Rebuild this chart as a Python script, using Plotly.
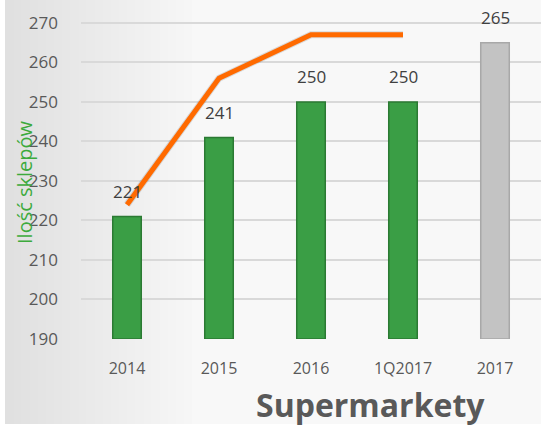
import plotly.graph_objects as go

categories = ["2014", "2015", "2016", "1Q2017", "2017"]
bar_values = [221, 241, 250, 250, 265]
bar_colors = ["#3a9e45", "#3a9e45", "#3a9e45", "#3a9e45", "#c3c3c3"]
bar_lines = ["#2b7a33", "#2b7a33", "#2b7a33", "#2b7a33", "#a8a8a8"]
line_categories = ["2014", "2015", "2016", "1Q2017"]
line_values = [224, 256, 267, 267]
y_ticks = [190, 200, 210, 220, 230, 240, 250, 260, 270]

W, H = 541, 427
ml, mr, mt, mb = 81, 0, 0, 88
pw = W - ml - mr
ph = H - mt - mb

def px_x(p):
    return (p - ml) / pw

def px_y(p):
    return (H - mb - p) / ph

fig = go.Figure()

shapes = []
steps = 24
x0, x1 = 5, 200
for i in range(steps):
    a = x0 + (x1 - x0) * i / steps
    b = x0 + (x1 - x0) * (i + 1) / steps
    t = i / (steps - 1)
    c = int(224 + (248 - 224) * t)
    shapes.append(dict(type="rect", xref="paper", yref="paper",
                       x0=px_x(a), x1=px_x(b) + 0.002, y0=px_y(424), y1=px_y(0),
                       fillcolor=f"rgb({c},{c},{c})", line=dict(width=0), layer="below"))
shapes.append(dict(type="rect", xref="paper", yref="paper",
                   x0=px_x(x1), x1=px_x(W), y0=px_y(424), y1=px_y(0),
                   fillcolor="rgb(248,248,248)", line=dict(width=0), layer="below"))

fig.add_trace(go.Bar(
    x=categories, y=[v - 190 for v in bar_values], base=190,
    marker=dict(color=bar_colors, line=dict(color=bar_lines, width=1.5)),
    width=0.31, hoverinfo="skip", showlegend=False,
))

fig.add_trace(go.Scatter(
    x=line_categories, y=line_values, mode="lines",
    line=dict(color="rgba(0,0,0,0.12)", width=7),
    hoverinfo="skip", showlegend=False,
))
fig.add_trace(go.Scatter(
    x=line_categories, y=line_values, mode="lines",
    line=dict(color="#ff6a00", width=5),
    hoverinfo="skip", showlegend=False,
))

annotations = []
for i, v in enumerate(bar_values):
    annotations.append(dict(x=i, y=v, xref="x", yref="y", text=str(v),
                            showarrow=False, yshift=25, xanchor="center", yanchor="middle",
                            font=dict(family="Open Sans, DejaVu Sans", size=17, color="#404040")))
annotations.append(dict(x=px_x(24), y=px_y(182), xref="paper", yref="paper",
                        text="Ilość sklepów", textangle=-90, showarrow=False,
                        xanchor="center", yanchor="middle",
                        font=dict(family="Open Sans, DejaVu Sans", size=20, color="#3caa3c")))
annotations.append(dict(x=px_x(370), y=px_y(404), xref="paper", yref="paper",
                        text="<b>Supermarkety</b>", showarrow=False,
                        xanchor="center", yanchor="middle",
                        font=dict(family="Open Sans, DejaVu Sans", size=32, color="#595959")))

fig.update_layout(
    width=W, height=H,
    margin=dict(l=ml, r=mr, t=mt, b=mb),
    paper_bgcolor="white", plot_bgcolor="rgba(0,0,0,0)",
    shapes=shapes, annotations=annotations,
    hovermode=False,
    xaxis=dict(categoryorder="array", categoryarray=categories,
               range=[-0.5, 4.5], showgrid=False, showline=False, zeroline=False,
               ticks="", ticklabelstandoff=18,
               tickfont=dict(family="Open Sans, DejaVu Sans", size=16, color="#595959")),
    yaxis=dict(range=[190, 275.8], tickvals=y_ticks, showgrid=True,
               gridcolor="#d9d9d9", gridwidth=1.5, zeroline=False, showline=False,
               ticks="", ticklabelstandoff=22,
               tickfont=dict(family="Open Sans, DejaVu Sans", size=17, color="#595959")),
    bargap=0.7,
)

fig.write_html("out.html", config={"displayModeBar": False},
               post_script="document.body.style.margin='0';")
